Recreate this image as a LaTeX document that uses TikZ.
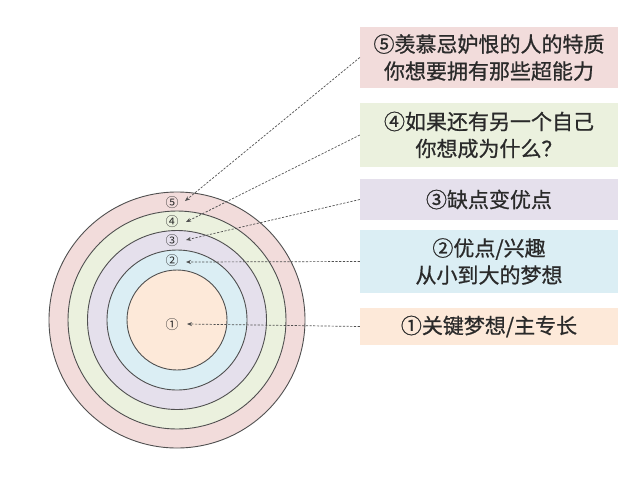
\documentclass[tikz,border=0pt]{standalone}
\usepackage{fontspec}
\setmainfont{Noto Sans CJK SC}
\newfontfamily\boxfont[FakeBold=0.8]{Noto Sans CJK SC}
\usetikzlibrary{arrows.meta}
\definecolor{cpink}{HTML}{F2DCDB}
\definecolor{cgreen}{HTML}{EBF1DE}
\definecolor{clav}{HTML}{E5E0EC}
\definecolor{cblue}{HTML}{DBEEF4}
\definecolor{cpeach}{HTML}{FDE9D9}
\definecolor{ctext}{HTML}{2A2A2A}
\definecolor{cline}{HTML}{505050}
\tikzset{
  ring/.style={circle, draw=cline, line width=0.9pt, inner sep=0pt},
  infobox/.style={rectangle, minimum width=258pt, align=center, text=ctext, font=\boxfont\fontsize{21}{27}\selectfont, inner sep=0pt},
  lbl/.style={text=ctext, font=\fontsize{13}{13}\selectfont, inner sep=0pt},
  pointer/.style={draw=cline, dashed, dash pattern=on 2.2pt off 1.5pt, line width=0.7pt, -{Stealth[length=5pt,width=4pt]}}
}
\begin{document}
\begin{tikzpicture}[x=1pt,y=-1pt]
\useasboundingbox (0,0) rectangle (640,480);
\fill[white] (0,0) rectangle (640,480);
% rings
\node[ring, fill=cpink, minimum size=256pt] (r5) at (177,320) {};
\node[ring, fill=cgreen, minimum size=218pt] (r4) at (177,320) {};
\node[ring, fill=clav, minimum size=179pt] (r3) at (177,320) {};
\node[ring, fill=cblue, minimum size=140pt] (r2) at (177,320) {};
\node[ring, fill=cpeach, minimum size=100pt] (r1) at (177,320) {};
% ring labels
\node[lbl] (l5) at (172,203) {⑤};
\node[lbl] (l4) at (172,222) {④};
\node[lbl] (l3) at (172,241) {③};
\node[lbl] (l2) at (172,261) {②};
\node[lbl] (l1) at (172,325) {①};
\coordinate (t5) at (185,201);
\coordinate (t4) at (186,222);
\coordinate (t3) at (186,240);
\coordinate (t2) at (186,262);
\coordinate (t1) at (187,324);
% boxes
\node[infobox, fill=cpink, minimum height=61pt] (b5) at (489,57.5) {⑤羡慕忌妒恨的人的特质\\你想要拥有那些超能力};
\node[infobox, fill=cgreen, minimum height=64pt] (b4) at (489,135) {④如果还有另一个自己\\你想成为什么？};
\node[infobox, fill=clav, minimum height=41pt] (b3) at (489,199.5) {③缺点变优点};
\node[infobox, fill=cblue, minimum height=63pt] (b2) at (489,261.5) {②优点/兴趣\\从小到大的梦想};
\node[infobox, fill=cpeach, minimum height=37pt] (b1) at (489,326.5) {①关键梦想/主专长};
% pointers
\draw[pointer] (b5.west) -- (t5);
\draw[pointer] (b4.west) -- (t4);
\draw[pointer] (b3.west) -- (t3);
\draw[pointer] (b2.west) -- (t2);
\draw[pointer] (b1.west) -- (t1);
\end{tikzpicture}
\end{document}
